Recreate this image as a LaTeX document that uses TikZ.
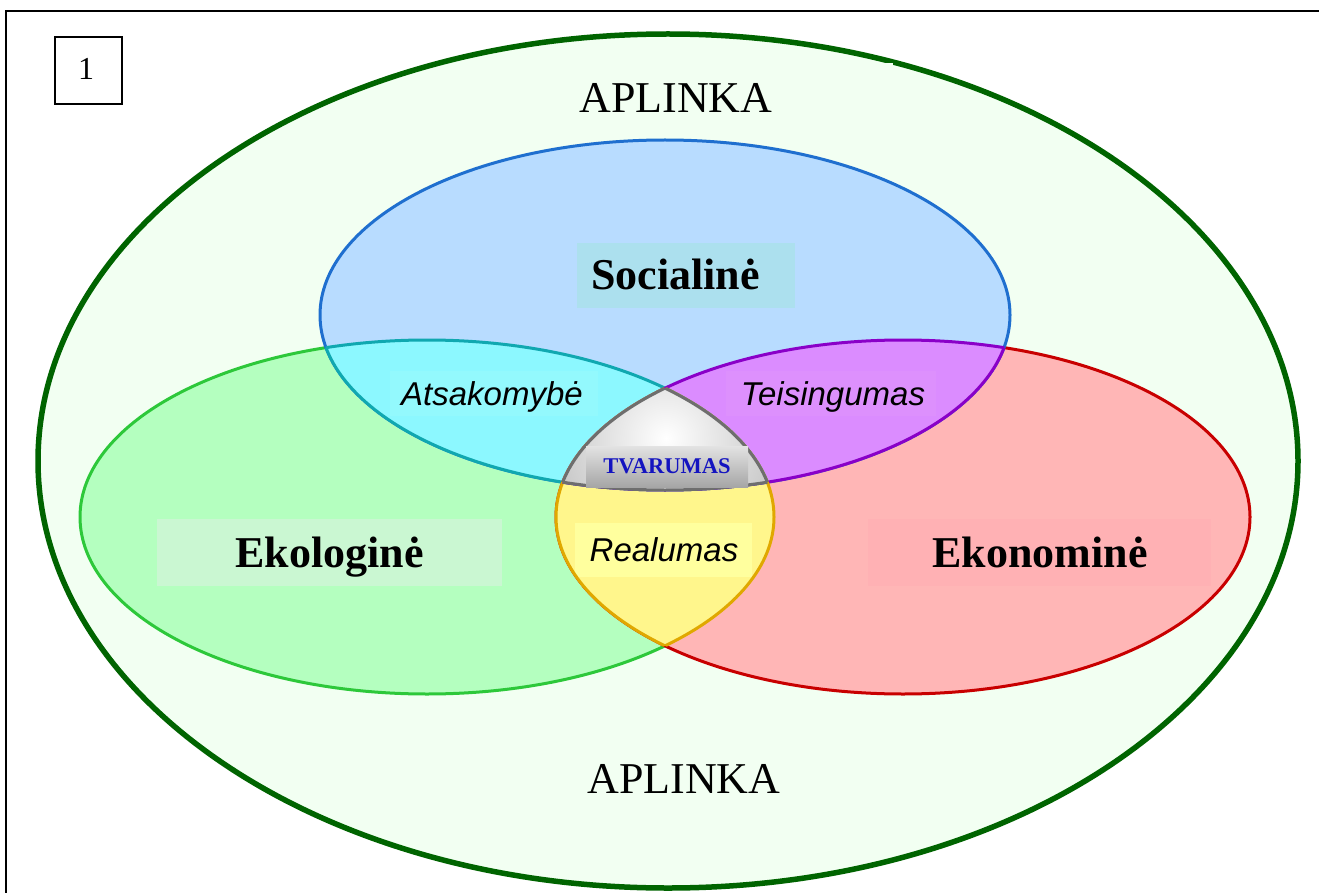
\documentclass[tikz,border=0pt]{standalone}
\usepackage{fontspec}
\setmainfont{Liberation Serif}
\newfontfamily\arialfont{Liberation Sans}
\definecolor{outerfill}{HTML}{F2FFF2}
\definecolor{outerline}{HTML}{006400}
\definecolor{bluefill}{HTML}{B8DCFF}
\definecolor{blueline}{HTML}{1F6FCF}
\definecolor{greenfill}{HTML}{B4FFBF}
\definecolor{greenline}{HTML}{2DC83A}
\definecolor{redfill}{HTML}{FFB6B6}
\definecolor{redline}{HTML}{C80000}
\definecolor{cyanfill}{HTML}{8CF8FF}
\definecolor{tealline}{HTML}{10A8B0}
\definecolor{purplefill}{HTML}{DB8CFF}
\definecolor{purpleline}{HTML}{8A00C8}
\definecolor{yellowfill}{HTML}{FFF68C}
\definecolor{orangeline}{HTML}{E0A800}
\definecolor{grayline}{HTML}{6E6E6E}
\definecolor{socbox}{HTML}{ACE0EE}
\definecolor{ekobox}{HTML}{CAF7D2}
\definecolor{ekonbox}{HTML}{FFB1B4}
\definecolor{realbox}{HTML}{FFFF9E}
\definecolor{atsbox}{HTML}{93F9FD}
\definecolor{teisbox}{HTML}{DD90FD}
\definecolor{tvarblue}{HTML}{1414C0}
\newcommand\myClipBlue{\clip (665,315) ellipse [x radius=345pt, y radius=175pt];}
\newcommand\myClipGreen{\clip (427,517) ellipse [x radius=347pt, y radius=177pt];}
\newcommand\myClipRed{\clip (903,517) ellipse [x radius=347pt, y radius=177pt];}
\newcommand\myDrawBlue[1]{\draw[#1] (665,315) ellipse [x radius=345pt, y radius=175pt];}
\newcommand\myDrawGreen[1]{\draw[#1] (427,517) ellipse [x radius=347pt, y radius=177pt];}
\newcommand\myDrawRed[1]{\draw[#1] (903,517) ellipse [x radius=347pt, y radius=177pt];}
\begin{document}
\begin{tikzpicture}[x=1pt,y=-1pt,
  ringline/.style={line width=3pt},
  serifbig/.style={font=\fontsize{44}{50}\selectfont\bfseries, inner sep=0pt, anchor=base},
  envlabel/.style={font=\fontsize{44}{50}\selectfont, inner sep=0pt, anchor=base},
  italabel/.style={font=\arialfont\itshape\fontsize{33}{38}\selectfont, inner sep=0pt, anchor=base}]
\useasboundingbox (0,0) rectangle (1319,893);
% frame
\draw[line width=2.2pt] (6,894) -- (6,11) -- (1320,11);
\draw[line width=1.6pt] (55,37) rectangle (122,104);
\node[font=\fontsize{32}{36}\selectfont, inner sep=0pt, anchor=base] (num) at (86,79.5) {1};
% outer ellipse
\draw[line width=5.5pt, draw=outerline, fill=outerfill] (668,461) ellipse [x radius=630pt, y radius=427pt];
\fill[outerfill] (459,63) rectangle (893,130);
% three ellipses
\myDrawGreen{ringline, draw=greenline, fill=greenfill}
\myDrawRed{ringline, draw=redline, fill=redfill}
\myDrawBlue{ringline, draw=blueline, fill=bluefill}
% pairwise overlaps
\begin{scope}\myClipBlue \fill[cyanfill] (427,517) ellipse [x radius=347pt, y radius=177pt];\end{scope}
\begin{scope}\myClipBlue \fill[purplefill] (903,517) ellipse [x radius=347pt, y radius=177pt];\end{scope}
\begin{scope}\myClipGreen \fill[yellowfill] (903,517) ellipse [x radius=347pt, y radius=177pt];\end{scope}
% label backgrounds
\fill[socbox] (577,243) rectangle (795,308);
\fill[ekobox] (157,519) rectangle (502,586);
\fill[ekonbox] (868,519) rectangle (1211,586);
\fill[realbox] (575,523) rectangle (752,577);
\fill[atsbox] (390,371) rectangle (598,416);
\fill[teisbox] (726,371) rectangle (936,416);
% overlap outlines
\begin{scope}\myClipBlue \myDrawGreen{ringline, draw=tealline}\myDrawRed{ringline, draw=purpleline}\end{scope}
\begin{scope}\myClipGreen \myDrawBlue{ringline, draw=tealline}\myDrawRed{ringline, draw=orangeline}\end{scope}
\begin{scope}\myClipRed \myDrawBlue{ringline, draw=purpleline}\myDrawGreen{ringline, draw=orangeline}\end{scope}
% triple overlap
\begin{scope}\myClipBlue\myClipGreen\myClipRed
  \shade[inner color=white, outer color=gray!65] (666,438) circle (170pt);
\end{scope}
\begin{scope}\myClipBlue\myClipGreen \myDrawRed{ringline, draw=grayline}\end{scope}
\begin{scope}\myClipBlue\myClipRed \myDrawGreen{ringline, draw=grayline}\end{scope}
\begin{scope}\myClipGreen\myClipRed \myDrawBlue{ringline, draw=grayline}\end{scope}
\shade[top color=gray!22, middle color=white!92!gray, bottom color=gray!70, shading angle=0] (586,446) rectangle (748,487);
% labels
\node[envlabel] (envtop) at (676,113) {APLINKA};
\node[envlabel] (envbot) at (684,793) {APLINKA};
\node[serifbig] (soc) at (675.5,290) {Socialinė};
\node[serifbig] (eko) at (329.5,567) {Ekologinė};
\node[serifbig] (ekon) at (1040,567) {Ekonominė};
\node[italabel] (ats) at (492,405) {Atsakomybė};
\node[italabel] (teis) at (833,405) {Teisingumas};
\node[italabel] (real) at (664,561) {Realumas};
\node[font=\fontsize{22.5}{26}\selectfont\bfseries, text=tvarblue, inner sep=0pt, anchor=base] (tvar) at (667,473) {TVARUMAS};
\end{tikzpicture}
\end{document}
